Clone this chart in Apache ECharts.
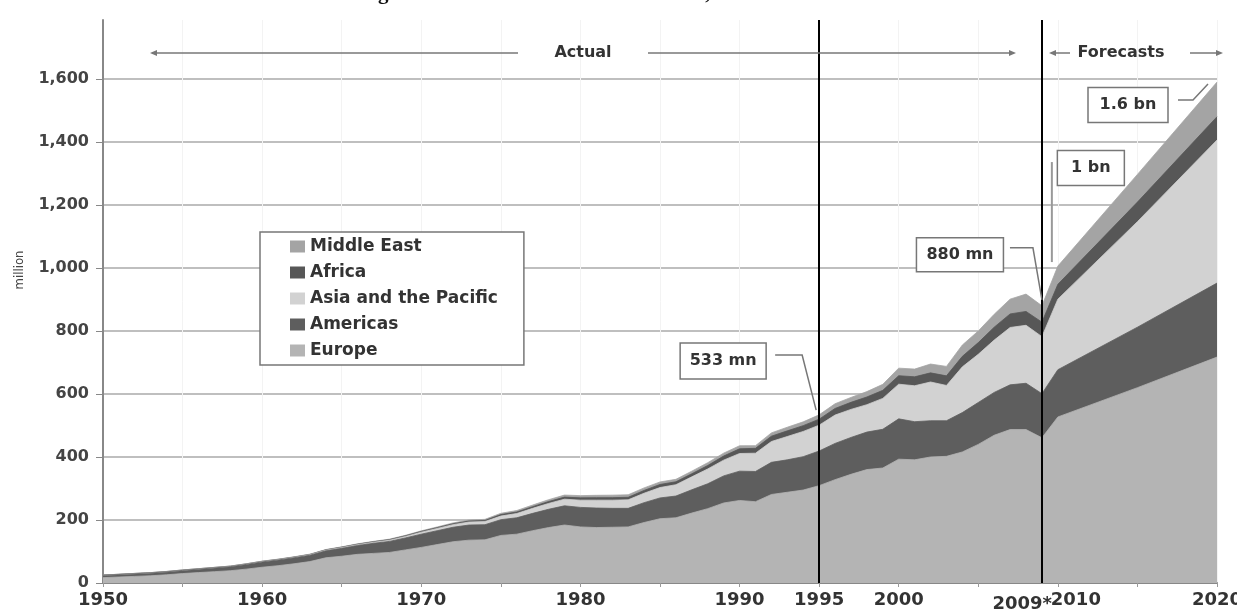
<!DOCTYPE html>
<html>
<head>
<meta charset="utf-8">
<script src="https://cdn.jsdelivr.net/npm/echarts@6/dist/echarts.min.js"></script>
<style>
  html, body { margin: 0; padding: 0; background: #fff; }
  #main { width: 1237px; height: 615px; }
</style>
</head>
<body>
<div id="main"></div>
<script>
// years: annual actuals 1950-2009, then forecast points
const years = [
  1950, 1951, 1952, 1953, 1954, 1955, 1956, 1957, 1958, 1959,
  1960, 1961, 1962, 1963, 1964, 1965, 1966, 1967, 1968, 1969,
  1970, 1971, 1972, 1973, 1974, 1975, 1976, 1977, 1978, 1979,
  1980, 1981, 1982, 1983, 1984, 1985, 1986, 1987, 1988, 1989,
  1990, 1991, 1992, 1993, 1994, 1995, 1996, 1997, 1998, 1999,
  2000, 2001, 2002, 2003, 2004, 2005, 2006, 2007, 2008, 2009,
  2010, 2015, 2020
];
const europe = [
  17, 19, 21, 23, 26, 30, 33, 36, 39, 44,
  50, 55, 61, 68, 80, 85, 91, 94, 97, 105,
  113, 122, 131, 136, 137, 151, 155, 166, 176, 184,
  178, 176, 177, 178, 192, 204, 207, 222, 236, 254,
  262, 258, 281, 288, 295, 309, 328, 345, 360, 365,
  393, 391, 400, 402, 416, 440, 469, 487, 487, 461,
  527, 620, 717
];
const americas = [
  7.5, 8, 8.5, 9, 9.5, 10, 11, 12, 13, 15,
  17, 18, 19, 20, 22, 25, 28, 32, 35, 38,
  42, 44, 46, 48, 48, 50, 52, 55, 58, 61,
  62, 62, 60, 59, 63, 66, 69, 74, 79, 86,
  93, 96, 102, 103, 106, 110, 115, 117, 119, 123,
  128, 121, 115, 113, 125, 133, 136, 142, 147, 140,
  150, 192, 235
];
const asiaPacific = [
  0.2, 0.2, 0.3, 0.3, 0.4, 0.5, 0.6, 0.7, 0.8, 0.9,
  1.0, 1.1, 1.3, 1.6, 2.0, 2.3, 2.7, 3.2, 3.8, 4.5,
  6.2, 7.0, 8.2, 9.5, 10.0, 11.5, 13.5, 16.0, 18.5, 21.0,
  23, 25, 26, 27, 30, 33, 36, 41, 47, 50,
  56, 58, 66, 74, 80, 82, 90, 89, 87, 98,
  110, 114, 123, 112, 145, 153, 166, 182, 184, 181,
  224, 335, 454
];
const africa = [
  0.5, 0.5, 0.6, 0.6, 0.6, 0.7, 0.7, 0.7, 0.7, 0.8,
  0.8, 0.9, 1.0, 1.1, 1.2, 1.4, 1.5, 1.7, 1.9, 2.1,
  2.4, 2.7, 3.0, 3.3, 3.6, 4.7, 4.9, 5.3, 6.0, 6.6,
  7.2, 7.8, 7.9, 8.0, 8.8, 9.7, 9.3, 9.8, 11.0, 13.0,
  15.0, 15.5, 17.0, 18.0, 18.5, 19.0, 21.0, 22.5, 24.5, 25.5,
  27.0, 28.5, 29.0, 30.5, 33.5, 37.0, 41.0, 43.0, 44.0, 46.0,
  47, 62, 74
];
const middleEast = [
  0.2, 0.2, 0.2, 0.2, 0.3, 0.3, 0.3, 0.3, 0.4, 0.5,
  0.6, 0.7, 0.8, 0.9, 1.0, 1.1, 1.2, 1.3, 1.5, 1.7,
  1.9, 2.2, 2.5, 3.0, 3.4, 4.0, 4.6, 5.2, 5.9, 6.5,
  7.1, 7.5, 7.9, 8.0, 8.1, 8.0, 7.8, 8.2, 8.9, 9.2,
  9.6, 8.4, 10.5, 11.5, 12.0, 13.7, 15.0, 15.5, 17.0, 19.0,
  24, 24.5, 28, 30, 36, 37, 41, 47, 55, 52,
  58, 88, 110
];

// x labels shown on the axis (2009 is drawn beside its marker line)
const xLabelYears = [1950, 1960, 1970, 1980, 1990, 1995, 2000, 2010, 2020];
const markerYears = [1995, 2009];
// callouts: [year, value, text]
const callouts = [
  [1995, 533, '533 mn'],
  [2009, 880, '880 mn'],
  [2010, 1006, '1 bn'],
  [2020, 1590, '1.6 bn']
];

const chart = echarts.init(document.getElementById('main'));
const FONT = '"DejaVu Sans", sans-serif';

// bottom to top
const layers = [
  ['Europe', europe, '#b4b4b4'],
  ['Americas', americas, '#5e5e5e'],
  ['Asia and the Pacific', asiaPacific, '#d2d2d2'],
  ['Africa', africa, '#575757'],
  ['Middle East', middleEast, '#a4a4a4']
];

// running totals, so each band is filled from its own top edge down to the axis
let running = years.map(() => 0);
const series = layers.map(([name, values, color]) => {
  running = running.map((v, i) => v + values[i]);
  return {
    name: name,
    type: 'line',
    data: years.map((y, i) => [y, +running[i].toFixed(2)]),
    symbol: 'none',
    lineStyle: { width: 0.8, color: color },
    itemStyle: { color: color },
    areaStyle: { color: color, opacity: 1 },
    emphasis: { disabled: true }
  };
}).reverse(); // highest band painted first, lower bands on top of it

series[series.length - 1].markLine = {
  silent: true,
  symbol: 'none',
  label: { show: false },
  lineStyle: { color: '#000', width: 2, type: 'solid' },
  data: markerYears.map(y => ({ xAxis: y }))
};

const option = {
  animation: false,
  backgroundColor: '#fff',
  grid: { left: 103, right: 20, top: 20, bottom: 32, outerBoundsMode: 'none' },
  legend: {
    orient: 'vertical',
    left: 260,
    top: 232,
    data: ['Middle East', 'Africa', 'Asia and the Pacific', 'Americas', 'Europe'],
    icon: 'rect',
    itemWidth: 15,
    itemHeight: 12,
    itemGap: 7,
    padding: [5, 26, 5, 30],
    borderColor: '#777',
    borderWidth: 1.5,
    backgroundColor: '#fff',
    selectedMode: false,
    textStyle: { color: '#333', fontSize: 17, fontWeight: 'bold', fontFamily: FONT, lineHeight: 19 }
  },
  xAxis: {
    type: 'value',
    min: 1950,
    max: 2020,
    interval: 5,
    axisLine: { lineStyle: { color: '#888', width: 2 } },
    axisTick: { length: 4, lineStyle: { color: '#999' } },
    splitLine: { show: true, lineStyle: { color: '#f3f3f3', width: 1 } },
    axisLabel: {
      color: '#333',
      fontSize: 18,
      fontWeight: 'bold',
      fontFamily: FONT,
      margin: 8,
      showMaxLabel: true,
      formatter: v => {
        if (xLabelYears.indexOf(v) < 0) return '';
        return v === 2010 ? '{shift|2010}' : String(v);
      },
      rich: { shift: { padding: [0, 0, 0, 36], fontSize: 18, fontWeight: 'bold', color: '#333', fontFamily: FONT } }
    }
  },
  yAxis: {
    type: 'value',
    min: 0,
    max: 1787,
    interval: 200,
    axisLine: { show: true, lineStyle: { color: '#888', width: 2 } },
    axisTick: { show: true, length: 7, lineStyle: { color: '#888' } },
    splitLine: { show: true, showMaxLine: false, lineStyle: { color: '#aaa', width: 1.5 } },
    axisLabel: {
      color: '#444',
      fontSize: 16,
      fontWeight: 'bold',
      fontFamily: FONT,
      margin: 14,
      showMaxLabel: false,
      formatter: v => v.toLocaleString('en-US')
    }
  },
  series: series
};

chart.setOption(option);

// annotation layer, anchored to data points through the chart's own scales
const px = (x, y) => chart.convertToPixel({ gridIndex: 0 }, [x, y]);
const gray = '#777';
const graphics = [];

function line(points, color, width) {
  graphics.push({ type: 'polyline', shape: { points: points }, style: { stroke: color || gray, lineWidth: width || 1.5, fill: null }, z: 20 });
}
function arrowHead(x, y, dir) {
  graphics.push({ type: 'polygon', shape: { points: [[x, y], [x - dir * 7, y - 3], [x - dir * 7, y + 3]] }, style: { fill: gray }, z: 20 });
}
function text(x, y, str, opts) {
  graphics.push({
    type: 'text', x: x, y: y, z: 21,
    style: Object.assign({ text: str, fill: '#333', font: 'bold 16px ' + FONT, align: 'center', verticalAlign: 'middle' }, opts || {})
  });
}
function box(cx, cy, w, h, str) {
  graphics.push({ type: 'rect', shape: { x: cx - w / 2, y: cy - h / 2, width: w, height: h }, style: { fill: '#fff', stroke: gray, lineWidth: 1.5 }, z: 20 });
  text(cx, cy, str);
}

// partly visible title, cut by the top edge
text(583, -17, 'Figure 1: International tourist arrivals, 1950-2020', { font: 'bold 21px "Liberation Serif", serif', verticalAlign: 'top', fill: '#111' });

// Actual / Forecasts header
text(583, 53, 'Actual');
line([[152, 53], [518, 53]]);
arrowHead(150, 53, -1);
line([[648, 53], [1013, 53]]);
arrowHead(1016, 53, 1);
text(1121, 53, 'Forecasts');
line([[1052, 53], [1070, 53]]);
arrowHead(1049, 53, -1);
line([[1190, 53], [1220, 53]]);
arrowHead(1223, 53, 1);

// 2009* label beside the marker line
const p09 = px(2009, 0);
text(p09[0] + 10, p09[1] + 21, '2009*', { font: 'bold 18px ' + FONT, align: 'right' });

// callouts
let p = px(callouts[0][0], callouts[0][1]);
box(p[0] - 96, p[1] - 54, 86, 36, callouts[0][2]);
line([[p[0] - 44, p[1] - 60], [p[0] - 17, p[1] - 60], [p[0] - 3, p[1] - 5]]);

p = px(callouts[1][0], callouts[1][1]);
box(p[0] - 82, p[1] - 51, 87, 34, callouts[1][2]);
line([[p[0] - 32, p[1] - 58], [p[0] - 9, p[1] - 58], [p[0], p[1] - 6]]);

p = px(callouts[2][0], callouts[2][1]);
box(p[0] + 33, p[1] - 98, 67, 35, callouts[2][2]);
line([[p[0] - 6, p[1] - 104], [p[0] - 6, p[1] - 4]], '#999', 2);

p = px(callouts[3][0], callouts[3][1]);
box(p[0] - 89, p[1] + 23, 80, 35, callouts[3][2]);
line([[p[0] - 39, p[1] + 18], [p[0] - 24, p[1] + 18], [p[0] - 9, p[1] + 2]]);

// y axis name
graphics.push({
  type: 'text', x: 20, y: 270, rotation: Math.PI / 2, z: 21,
  style: { text: 'million', fill: '#444', font: '13px "DejaVu Sans Condensed", "Liberation Sans Narrow", sans-serif', align: 'center', verticalAlign: 'middle' }
});

chart.setOption({ graphic: graphics });
</script>
</body>
</html>
